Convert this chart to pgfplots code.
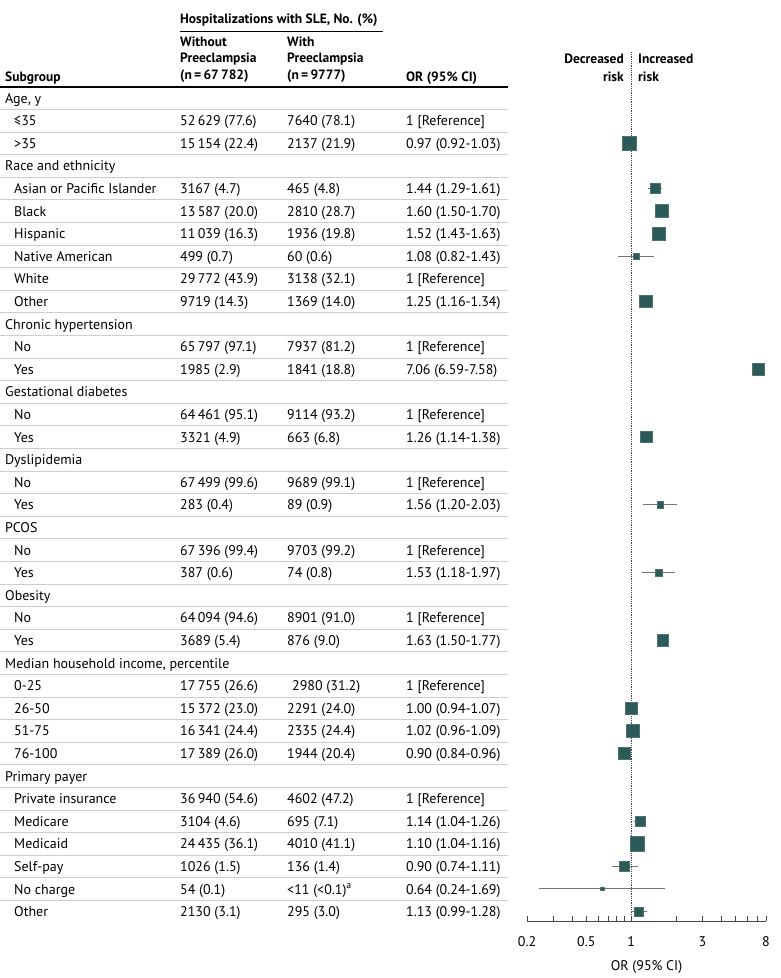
\documentclass[border=0pt]{standalone}
\usepackage{pgfplots}
\pgfplotsset{compat=1.18}
\usepackage{pgfplotstable}
\usepackage{fontspec}
\setmainfont{PT Sans}
\definecolor{mk}{RGB}{43,90,88}
\definecolor{cigray}{RGB}{115,115,115}
\definecolor{sepgray}{RGB}{205,205,205}
\definecolor{axgray}{RGB}{70,70,70}

\pgfplotstableread{
r or lo hi s
3 0.97 0.92 1.03 7.1
5 1.44 1.29 1.61 5.1
6 1.60 1.50 1.70 6.4
7 1.52 1.43 1.63 6.5
8 1.08 0.82 1.43 3.0
10 1.25 1.16 1.34 6.2
13 7.06 6.59 7.58 6.0
16 1.26 1.14 1.38 5.7
19 1.56 1.20 2.03 3.2
22 1.53 1.18 1.97 3.2
25 1.63 1.50 1.77 5.7
28 1.00 0.94 1.07 6.4
29 1.02 0.96 1.09 6.4
30 0.90 0.84 0.96 6.2
33 1.14 1.04 1.26 5.0
34 1.10 1.04 1.16 7.2
35 0.90 0.74 1.11 5.0
36 0.64 0.24 1.69 1.7
37 1.13 0.99 1.28 4.5
}\ortab

\newcommand\fs{\fontsize{14pt}{16pt}\selectfont}
\newcommand\fb{\fontsize{13.5pt}{16pt}\selectfont\bfseries}
\newcommand\grp[2]{%
  \pgfmathsetmacro\yy{-(98+22.6*(#1-1)+5)}%
  \node[anchor=base west,inner sep=0pt] at (5,\yy) {#2};}
\newcommand\sub[5]{%
  \pgfmathsetmacro\yy{-(98+22.6*(#1-1)+5)}%
  \node[anchor=base west,inner sep=0pt] at (14,\yy) {#2};
  \node[anchor=base west,inner sep=0pt] at (180,\yy) {#3};
  \node[anchor=base west,inner sep=0pt] at (287,\yy) {#4};
  \node[anchor=base west,inner sep=0pt] at (406,\yy) {#5};}

\begin{document}
\begin{tikzpicture}[x=1pt,y=1pt,every node/.style={font=\fs}]
\useasboundingbox (0,0) rectangle (780,-978);

% header
\node[anchor=base west,inner sep=0pt,font=\fb] at (180,-23) {Hospitalizations with SLE, No. (\%)};
\draw[black,line width=0.8pt] (180,-31) -- (383,-31);
\node[anchor=base west,inner sep=0pt,font=\fb] at (180,-46) {Without};
\node[anchor=base west,inner sep=0pt,font=\fb] at (180,-62) {Preeclampsia};
\node[anchor=base west,inner sep=0pt,font=\fb] at (180,-79) {(n\,=\,67\,782)};
\node[anchor=base west,inner sep=0pt,font=\fb] at (287,-46) {With};
\node[anchor=base west,inner sep=0pt,font=\fb] at (287,-62) {Preeclampsia};
\node[anchor=base west,inner sep=0pt,font=\fb] at (287,-79) {(n\,=\,9777)};
\node[anchor=base west,inner sep=0pt,font=\fb] at (5,-81) {Subgroup};
\node[anchor=base west,inner sep=0pt,font=\fb] at (406,-81) {OR (95\% CI)};
\draw[black,line width=1.4pt] (0,-87) -- (508,-87);
\node[anchor=base east,inner sep=0pt,font=\fb] at (624,-63) {Decreased};
\node[anchor=base east,inner sep=0pt,font=\fb] at (624,-81) {risk};
\node[anchor=base west,inner sep=0pt,font=\fb] at (638,-63) {Increased};
\node[anchor=base west,inner sep=0pt,font=\fb] at (638,-81) {risk};

% separators
\foreach \r in {1,...,36}{
  \pgfmathsetmacro\ys{-(98+22.6*(\r-1)+11.3)}
  \draw[sepgray,line width=0.8pt] (0,\ys) -- (508,\ys);
}

% table rows
\grp{1}{Age, y}
\sub{2}{≤35}{52\,629 (77.6)}{7640 (78.1)}{1 [Reference]}
\sub{3}{>35}{15\,154 (22.4)}{2137 (21.9)}{0.97 (0.92-1.03)}
\grp{4}{Race and ethnicity}
\sub{5}{Asian or Pacific Islander}{3167 (4.7)}{465 (4.8)}{1.44 (1.29-1.61)}
\sub{6}{Black}{13\,587 (20.0)}{2810 (28.7)}{1.60 (1.50-1.70)}
\sub{7}{Hispanic}{11\,039 (16.3)}{1936 (19.8)}{1.52 (1.43-1.63)}
\sub{8}{Native American}{499 (0.7)}{60 (0.6)}{1.08 (0.82-1.43)}
\sub{9}{White}{29\,772 (43.9)}{3138 (32.1)}{1 [Reference]}
\sub{10}{Other}{9719 (14.3)}{1369 (14.0)}{1.25 (1.16-1.34)}
\grp{11}{Chronic hypertension}
\sub{12}{No}{65\,797 (97.1)}{7937 (81.2)}{1 [Reference]}
\sub{13}{Yes}{1985 (2.9)}{1841 (18.8)}{7.06 (6.59-7.58)}
\grp{14}{Gestational diabetes}
\sub{15}{No}{64\,461 (95.1)}{9114 (93.2)}{1 [Reference]}
\sub{16}{Yes}{3321 (4.9)}{663 (6.8)}{1.26 (1.14-1.38)}
\grp{17}{Dyslipidemia}
\sub{18}{No}{67\,499 (99.6)}{9689 (99.1)}{1 [Reference]}
\sub{19}{Yes}{283 (0.4)}{89 (0.9)}{1.56 (1.20-2.03)}
\grp{20}{PCOS}
\sub{21}{No}{67\,396 (99.4)}{9703 (99.2)}{1 [Reference]}
\sub{22}{Yes}{387 (0.6)}{74 (0.8)}{1.53 (1.18-1.97)}
\grp{23}{Obesity}
\sub{24}{No}{64\,094 (94.6)}{8901 (91.0)}{1 [Reference]}
\sub{25}{Yes}{3689 (5.4)}{876 (9.0)}{1.63 (1.50-1.77)}
\grp{26}{Median household income, percentile}
\sub{27}{0-25}{17\,755 (26.6)}{\hspace{5pt}2980 (31.2)}{1 [Reference]}
\sub{28}{26-50}{15\,372 (23.0)}{2291 (24.0)}{1.00 (0.94-1.07)}
\sub{29}{51-75}{16\,341 (24.4)}{2335 (24.4)}{1.02 (0.96-1.09)}
\sub{30}{76-100}{17\,389 (26.0)}{1944 (20.4)}{0.90 (0.84-0.96)}
\grp{31}{Primary payer}
\sub{32}{Private insurance}{36\,940 (54.6)}{4602 (47.2)}{1 [Reference]}
\sub{33}{Medicare}{3104 (4.6)}{695 (7.1)}{1.14 (1.04-1.26)}
\sub{34}{Medicaid}{24\,435 (36.1)}{4010 (41.1)}{1.10 (1.04-1.16)}
\sub{35}{Self-pay}{1026 (1.5)}{136 (1.4)}{0.90 (0.74-1.11)}
\sub{36}{No charge}{54 (0.1)}{<11 (<0.1)\textsuperscript{a}}{0.64 (0.24-1.69)}
\sub{37}{Other}{2130 (3.1)}{295 (3.0)}{1.13 (0.99-1.28)}

\begin{axis}[
  at={(527pt,-921pt)}, anchor=south west,
  scale only axis, width=239pt, height=869pt,
  xmode=log, xmin=0.2, xmax=8,
  ymin=-1.035, ymax=37.42, y dir=reverse,
  axis x line=bottom, axis y line=none,
  axis line style={axgray,line width=0.8pt,-},
  xtick={0.2,0.5,1,3,8},
  xticklabels={0.2,0.5,1,3,8},
  minor xtick={0.3,0.4,0.6,0.7,0.8,0.9,2,4,5,6,7},
  tick align=inside,
  major tick length=5pt, minor tick length=5pt,
  tick style={axgray,line width=0.8pt},
  xticklabel style={font=\fs, yshift=-12pt},
  /pgf/number format/assume math mode=true,
  xlabel={OR (95\% CI)},
  xlabel style={font=\fs, yshift=-7pt},
  clip=false,
]
\addplot[axgray, densely dotted, line width=0.8pt] coordinates {(1,-1.035) (1,37.42)};
\addplot[only marks, mark=none,
  error bars/.cd, x dir=both, x explicit, error mark=none,
  error bar style={cigray,line width=1.1pt}]
  table[x=or, y=r, x error plus expr=\thisrow{hi}-\thisrow{or}, x error minus expr=\thisrow{or}-\thisrow{lo}] {\ortab};
\addplot[scatter, only marks, mark=square*,
  scatter/use mapped color={draw=mk!85!white, fill=mk},
  visualization depends on={\thisrow{s} \as \ms},
  scatter/@pre marker code/.append style={/tikz/mark size=\ms}]
  table[x=or, y=r] {\ortab};
\end{axis}
\end{tikzpicture}
\end{document}
